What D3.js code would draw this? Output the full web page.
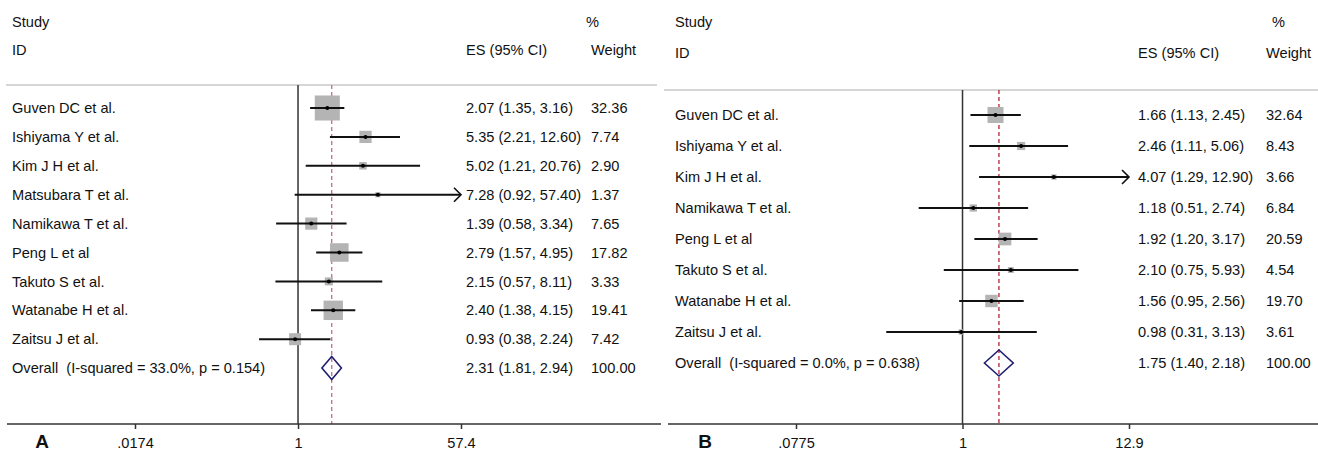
<!DOCTYPE html>
<html>
<head>
<meta charset="utf-8">
<script src="https://cdn.jsdelivr.net/npm/d3@7"></script>
<style>
  html, body { margin: 0; padding: 0; background: #fff; }
  svg { display: block; font-family: "Liberation Sans", Arial, sans-serif; }
  text { fill: #111; white-space: pre; }
</style>
</head>
<body>
<svg id="chart" width="1318" height="451"></svg>
<script>
// ---- Panel A: study estimates ----
const studiesA = ["Guven DC et al.", "Ishiyama Y et al.", "Kim J H et al.", "Matsubara T et al.",
  "Namikawa T et al.", "Peng L et al", "Takuto S et al.", "Watanabe H et al.", "Zaitsu J et al."];
const esA = [2.07, 5.35, 5.02, 7.28, 1.39, 2.79, 2.15, 2.40, 0.93];
const loA = [1.35, 2.21, 1.21, 0.92, 0.58, 1.57, 0.57, 1.38, 0.38];
const hiA = [3.16, 12.60, 20.76, 57.40, 3.34, 4.95, 8.11, 4.15, 2.24];
const weightA = [32.36, 7.74, 2.90, 1.37, 7.65, 17.82, 3.33, 19.41, 7.42];
const overallA = { label: "Overall  (I-squared = 33.0%, p = 0.154)", es: 2.31, lo: 1.81, hi: 2.94, weight: 100.00 };
const ticksA = [0.0174, 1, 57.4];
const tickLabelsA = [".0174", "1", "57.4"];

// ---- Panel B: study estimates ----
const studiesB = ["Guven DC et al.", "Ishiyama Y et al.", "Kim J H et al.", "Namikawa T et al.",
  "Peng L et al", "Takuto S et al.", "Watanabe H et al.", "Zaitsu J et al."];
const esB = [1.66, 2.46, 4.07, 1.18, 1.92, 2.10, 1.56, 0.98];
const loB = [1.13, 1.11, 1.29, 0.51, 1.20, 0.75, 0.95, 0.31];
const hiB = [2.45, 5.06, 12.90, 2.74, 3.17, 5.93, 2.56, 3.13];
const weightB = [32.64, 8.43, 3.66, 6.84, 20.59, 4.54, 19.70, 3.61];
const overallB = { label: "Overall  (I-squared = 0.0%, p = 0.638)", es: 1.75, lo: 1.40, hi: 2.18, weight: 100.00 };
const ticksB = [0.0775, 1, 12.9];
const tickLabelsB = [".0775", "1", "12.9"];

const svg = d3.select("#chart");
const fmt = d3.format(".2f");
const FS = "14.6px";

function drawPanel(cfg) {
  const g = svg.append("g");
  const rows = cfg.studies.map((s, i) => ({
    label: s, es: cfg.es[i], lo: cfg.lo[i], hi: cfg.hi[i], w: cfg.weight[i]
  }));
  const n = rows.length;

  const x = d3.scaleLog().domain([cfg.ticks[0], cfg.ticks[2]]).range(cfg.xRange);
  const y = d3.scaleLinear().domain([0, n]).range([cfg.yFirst, cfg.yFirst + n * cfg.rowStep]);
  const side = d3.scaleSqrt().domain([0, 100]).range([0, cfg.maxSide]);

  // headers
  const header = (tx, ty, s) => g.append("text").attr("x", tx).attr("y", ty)
    .attr("dy", "0.35em").style("font-size", FS).text(s);
  header(cfg.colLabel, cfg.hdr1, "Study");
  header(cfg.colLabel, cfg.hdr2, "ID");
  header(cfg.colES, cfg.hdr2, "ES (95% CI)");
  header(cfg.colPct, cfg.hdr1, "%");
  header(cfg.colW, cfg.hdr2, "Weight");

  // top separator
  g.append("line").attr("x1", cfg.lineX[0]).attr("x2", cfg.lineX[1])
    .attr("y1", cfg.topLine).attr("y2", cfg.topLine)
    .attr("stroke", "#c8c8c8").attr("stroke-width", 1.5);

  // null line at 1
  g.append("line").attr("x1", x(1)).attr("x2", x(1))
    .attr("y1", cfg.topLine).attr("y2", cfg.axisY)
    .attr("stroke", "#333").attr("stroke-width", 1.5);

  // pooled estimate reference line
  g.append("line").attr("x1", x(cfg.overall.es)).attr("x2", x(cfg.overall.es))
    .attr("y1", cfg.topLine).attr("y2", cfg.axisY)
    .attr("stroke", cfg.dashColor).attr("stroke-width", 1.3)
    .attr("stroke-dasharray", "4,3");

  // weight boxes
  g.selectAll("rect.box").data(rows).join("rect").attr("class", "box")
    .attr("x", d => x(d.es) - side(d.w) / 2)
    .attr("y", (d, i) => y(i) - side(d.w) / 2)
    .attr("width", d => side(d.w)).attr("height", d => side(d.w))
    .attr("fill", "#b4b4b4");

  // confidence intervals
  g.selectAll("line.ci").data(rows).join("line").attr("class", "ci")
    .attr("x1", d => x(d.lo)).attr("x2", d => x(d.hi))
    .attr("y1", (d, i) => y(i)).attr("y2", (d, i) => y(i))
    .attr("stroke", "#111").attr("stroke-width", 2);

  // arrows where the interval reaches the axis limit
  const maxV = cfg.ticks[2];
  g.selectAll("path.arrow").data(rows.map((d, i) => ({ ...d, i })).filter(d => d.hi >= maxV))
    .join("path").attr("class", "arrow")
    .attr("d", d => {
      const xe = x(maxV), yy = y(d.i);
      return `M${xe - 7},${yy - 7} L${xe},${yy} L${xe - 7},${yy + 7}`;
    })
    .attr("fill", "none").attr("stroke", "#111").attr("stroke-width", 1.6);

  // point estimates
  g.selectAll("circle.pt").data(rows).join("circle").attr("class", "pt")
    .attr("cx", d => x(d.es)).attr("cy", (d, i) => y(i)).attr("r", 2)
    .attr("fill", "#000");

  // overall diamond
  const o = cfg.overall, yo = y(n);
  g.append("path")
    .attr("d", `M${x(o.lo)},${yo} L${x(o.es)},${yo - cfg.diamondH} L${x(o.hi)},${yo} L${x(o.es)},${yo + cfg.diamondH} Z`)
    .attr("fill", "none").attr("stroke", "#1f1f70").attr("stroke-width", 1.6);

  // row texts
  const all = rows.concat([{ label: o.label, es: o.es, lo: o.lo, hi: o.hi, w: o.weight }]);
  g.selectAll("text.lab").data(all).join("text").attr("class", "lab")
    .attr("x", cfg.colLabel).attr("y", (d, i) => y(i)).attr("dy", "0.35em")
    .style("font-size", FS).text(d => d.label);
  g.selectAll("text.es").data(all).join("text").attr("class", "es")
    .attr("x", cfg.colES).attr("y", (d, i) => y(i)).attr("dy", "0.35em")
    .style("font-size", FS)
    .text(d => `${fmt(d.es)} (${fmt(d.lo)}, ${fmt(d.hi)})`);
  g.selectAll("text.wt").data(all).join("text").attr("class", "wt")
    .attr("x", cfg.colW).attr("y", (d, i) => y(i)).attr("dy", "0.35em")
    .style("font-size", FS).text(d => fmt(d.w));

  // bottom axis
  g.append("line").attr("x1", cfg.axisX[0]).attr("x2", cfg.axisX[1])
    .attr("y1", cfg.axisY).attr("y2", cfg.axisY)
    .attr("stroke", "#333").attr("stroke-width", 1.5);
  const axis = d3.axisBottom(x).tickValues(cfg.ticks)
    .tickFormat((d, i) => cfg.tickLabels[i]).tickSize(5).tickPadding(9);
  const ax = g.append("g").attr("transform", `translate(0,${cfg.axisY})`).call(axis);
  ax.select(".domain").remove();
  ax.selectAll(".tick line").attr("stroke", "#333").attr("stroke-width", 1.5);
  ax.selectAll(".tick text").attr("fill", "#111")
    .style("font-size", FS).style("font-family", "Liberation Sans, Arial, sans-serif");

  g.append("text").attr("x", cfg.letterX).attr("y", 441).attr("dy", "0.35em")
    .attr("text-anchor", "middle").style("font-size", "19px").style("font-weight", "bold")
    .text(cfg.letter);
}

drawPanel({
  studies: studiesA, es: esA, lo: loA, hi: hiA, weight: weightA, overall: overallA,
  ticks: ticksA, tickLabels: tickLabelsA,
  xRange: [135, 461], yFirst: 108, rowStep: 28.9, maxSide: 44,
  colLabel: 12, colES: 466, colPct: 586, colW: 591,
  hdr1: 22, hdr2: 50, topLine: 85, lineX: [6, 657],
  axisY: 424, axisX: [7, 661], dashColor: "#cc6b80", diamondH: 11.5,
  letter: "A", letterX: 42
});

drawPanel({
  studies: studiesB, es: esB, lo: loB, hi: hiB, weight: weightB, overall: overallB,
  ticks: ticksB, tickLabels: tickLabelsB,
  xRange: [796, 1129], yFirst: 115, rowStep: 31, maxSide: 28,
  colLabel: 675, colES: 1138, colPct: 1272, colW: 1266,
  hdr1: 22, hdr2: 53, topLine: 90, lineX: [664, 1318],
  axisY: 424, axisX: [668, 1318], dashColor: "#b5243a", diamondH: 13,
  letter: "B", letterX: 705
});
</script>
</body>
</html>
